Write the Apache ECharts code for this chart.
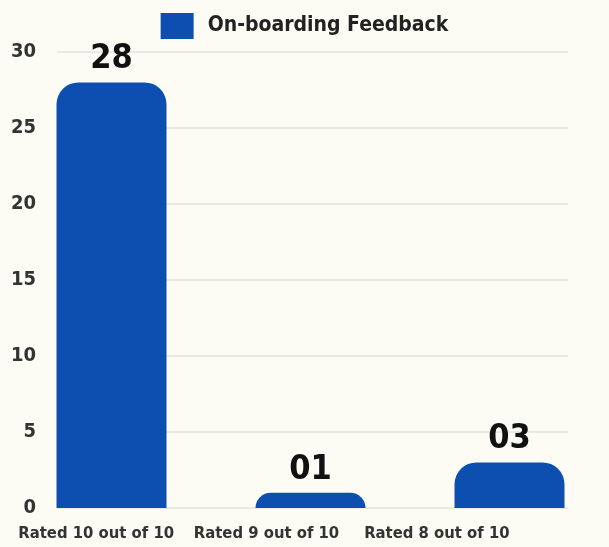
<!DOCTYPE html>
<html>
<head>
<meta charset="utf-8">
<script src="https://cdn.jsdelivr.net/npm/echarts@6/dist/echarts.min.js"></script>
<style>
html,body{margin:0;padding:0;background:#fcfcf4;}
#c{width:609px;height:547px;}
</style>
</head>
<body>
<div id="c"></div>
<script>
const categories = ['Rated 10 out of 10', 'Rated 9 out of 10', 'Rated 8 out of 10'];
const seriesName = 'On-boarding Feedback';
const values = [28, 1, 3];
const yTicks = { min: 0, max: 30, interval: 5 };

const FONT = '"DejaVu Sans Condensed", "Liberation Sans Narrow", sans-serif';
const chart = echarts.init(document.getElementById('c'), null, { renderer: 'canvas' });
chart.setOption({
  backgroundColor: '#fcfcf4',
  animation: false,
  textStyle: { fontFamily: FONT },
  legend: {
    data: [seriesName],
    top: 8,
    left: 'center',
    itemWidth: 33,
    itemHeight: 26,
    itemGap: 10,
    textStyle: { fontFamily: FONT, fontSize: 21, fontWeight: 'bold', color: '#222', padding: [0, 0, 0, 9] },
    icon: 'rect'
  },
  grid: [
    { left: 57, right: 41, top: 52, bottom: 39 },
    { left: 12, width: 601, top: 52, bottom: 39 },
    { left: 11, width: 511, top: 52, bottom: 39 }
  ],
  xAxis: [
    { type: 'category', gridIndex: 0, data: categories, show: false },
    { type: 'category', gridIndex: 1, data: categories, show: false },
    { type: 'category', gridIndex: 2, data: categories,
      axisLine: { show: false }, axisTick: { show: false },
      axisLabel: { interval: 0, margin: 17, fontFamily: FONT, fontSize: 16.5, fontWeight: 'bold', color: '#333' } }
  ],
  yAxis: [
    { type: 'value', gridIndex: 0, min: yTicks.min, max: yTicks.max, interval: yTicks.interval,
      axisLine: { show: false }, axisTick: { show: false },
      splitLine: { lineStyle: { color: '#e4e4dc', width: 1.5 } },
      axisLabel: { margin: 21, padding: [5, 0, 0, 0], fontFamily: FONT, fontSize: 20, fontWeight: 'bold', color: '#333' } },
    { type: 'value', gridIndex: 1, min: yTicks.min, max: yTicks.max, interval: yTicks.interval, show: false, splitLine: { show: false } },
    { type: 'value', gridIndex: 2, min: yTicks.min, max: yTicks.max, interval: yTicks.interval, show: false, splitLine: { show: false } }
  ],
  series: [{
    name: seriesName,
    type: 'bar',
    xAxisIndex: 1,
    yAxisIndex: 1,
    data: values,
    barWidth: 110,
    itemStyle: { color: '#0c4fb0', borderRadius: [22, 22, 0, 0] },
    label: {
      show: true, position: 'top', distance: 6,
      formatter: p => String(p.value).padStart(2, '0'),
      fontFamily: FONT, fontSize: 34, fontWeight: 'bold', color: '#111'
    }
  }]
});
</script>
</body>
</html>
